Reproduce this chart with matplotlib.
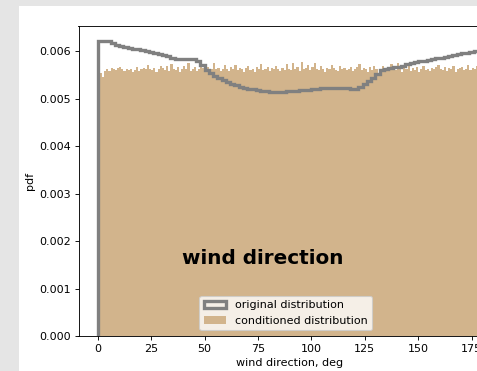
import numpy as np
from matplotlib import pyplot as plt
from matplotlib.patches import Rectangle

# bin edges, degrees
orig_edges = np.arange(0, 181, 2)
cond_edges = np.arange(0, 181, 1)

# original distribution (pdf, 2 deg bins)
orig_pdf = [0.006225, 0.006225, 0.006225, 0.006183, 0.006141, 0.006120, 0.006099, 0.006078, 0.006057, 0.006046,
            0.006025, 0.006004, 0.005994, 0.005973, 0.005951, 0.005920, 0.005899, 0.005867, 0.005846, 0.005840,
            0.005840, 0.005840, 0.005836, 0.005804, 0.005720, 0.005615, 0.005552, 0.005489, 0.005436, 0.005405,
            0.005363, 0.005321, 0.005289, 0.005258, 0.005236, 0.005215, 0.005205, 0.005184, 0.005173, 0.005163,
            0.005152, 0.005152, 0.005152, 0.005152, 0.005163, 0.005163, 0.005173, 0.005184, 0.005194, 0.005194,
            0.005205, 0.005215, 0.005226, 0.005226, 0.005236, 0.005236, 0.005236, 0.005236, 0.005226, 0.005215,
            0.005215, 0.005247, 0.005321, 0.005384, 0.005447, 0.005531, 0.005615, 0.005636, 0.005657, 0.005667,
            0.005678, 0.005699, 0.005731, 0.005762, 0.005783, 0.005794, 0.005804, 0.005825, 0.005846, 0.005857,
            0.005867, 0.005888, 0.005909, 0.005930, 0.005951, 0.005962, 0.005973, 0.005994, 0.006004, 0.006015]

# conditioned distribution (pdf x 1e4, 1 deg bins)
cond_pdf = [55.9, 55.5, 54.6, 55.8, 56.2, 55.9, 56.6, 56.4, 56.1, 56.5,
            56.7, 56.2, 55.9, 56.4, 56.0, 56.3, 55.6, 56.1, 56.8, 55.8,
            56.3, 56.5, 56.2, 57.1, 56.4, 56.0, 56.6, 55.7, 56.3, 57.0,
            56.5, 56.1, 56.9, 55.9, 57.4, 56.2, 56.0, 56.8, 55.6, 56.4,
            57.0, 56.3, 57.6, 55.9, 56.4, 56.7, 55.8, 56.2, 57.3, 56.5,
            56.1, 56.8, 56.0, 56.4, 57.5, 56.2, 56.6, 55.9, 56.3, 57.1,
            56.4, 55.8, 56.7, 56.2, 57.2, 56.0, 56.5, 56.3, 55.7, 56.6,
            56.9, 56.1, 56.4, 55.6, 56.8, 56.2, 57.4, 56.0, 56.3, 56.7,
            55.9, 56.5, 56.2, 57.0, 56.4, 55.8, 56.6, 56.1, 57.3, 56.3,
            56.0, 57.6, 56.4, 56.8, 55.9, 57.7, 56.2, 56.5, 57.2, 56.1,
            56.7, 57.5, 56.3, 56.0, 57.0, 56.4, 55.7, 56.6, 56.2, 57.1,
            56.5, 56.0, 55.8, 56.9, 56.3, 56.6, 56.1, 56.4, 56.8, 55.9,
            56.2, 56.7, 57.4, 56.0, 56.5, 56.3, 55.6, 56.8, 56.1, 57.0,
            56.4, 55.5, 56.2, 56.9, 56.0, 56.6, 55.8, 57.3, 56.3, 56.1,
            57.5, 56.2, 55.7, 56.8, 56.4, 57.2, 55.9, 56.5, 56.1, 56.7,
            55.6, 56.3, 56.9, 56.0, 56.4, 55.8, 56.6, 56.2, 56.8, 57.1,
            56.4, 56.1, 56.7, 55.9, 56.5, 56.2, 57.0, 55.7, 56.3, 56.6,
            56.8, 56.1, 56.4, 57.2, 56.0, 56.5, 56.3, 56.9, 56.1, 55.9]
cond_pdf = np.array(cond_pdf) * 1e-4

fig = plt.figure(figsize=(477/80, 371/80), dpi=80, facecolor='#e5e5e5')
fig.patches.append(Rectangle((19/477, 0), 1, 365/371, transform=fig.transFigure,
                             facecolor='white', edgecolor='none', zorder=-1))
ax = fig.add_axes([78.5/477, 35/371, 423/477, 310/371])

ax.hist(cond_edges[:-1], bins=cond_edges, weights=cond_pdf, color='tan',
        label='conditioned distribution')
ax.hist(orig_edges[:-1], bins=orig_edges, weights=orig_pdf, histtype='step',
        color='gray', lw=3, label='original distribution')

ax.set_xticks([0, 25, 50, 75, 100, 125, 150, 175])
ax.set_yticks([0, 0.001, 0.002, 0.003, 0.004, 0.005, 0.006])
ax.set_xlabel('wind direction, deg')
ax.set_ylabel('pdf')
ax.text(0.436, 0.25, 'wind direction', transform=ax.transAxes, ha='center',
        va='center', fontsize=18, fontweight='bold')
h, l = ax.get_legend_handles_labels()
ax.legend(h[::-1], l[::-1], loc='lower center', bbox_to_anchor=(0.49, 0))

fig.savefig('out.png', dpi=80, facecolor=fig.get_facecolor())
